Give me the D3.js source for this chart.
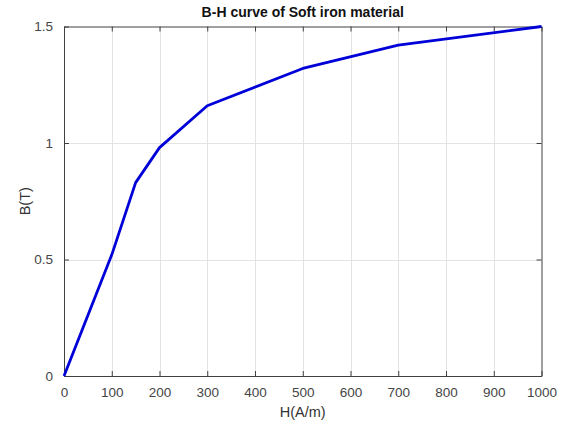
<!DOCTYPE html>
<html>
<head>
<meta charset="utf-8">
<script src="https://cdn.jsdelivr.net/npm/d3@7"></script>
<style>
  html, body { margin: 0; padding: 0; background: #fff; }
  svg { display: block; font-family: "Liberation Sans", Arial, Helvetica, sans-serif; }
</style>
</head>
<body>
<svg id="chart" width="565" height="427"></svg>
<script>
// Magnetisation curve samples: field strength H (A/m) and flux density B (T)
const fieldH = [0, 100, 150, 200, 300, 500, 700, 1000];
const fluxB = [0, 0.52, 0.83, 0.98, 1.16, 1.32, 1.42, 1.5];
const xTicks = [0, 100, 200, 300, 400, 500, 600, 700, 800, 900, 1000];
const yTicks = [0, 0.5, 1, 1.5];
const yTickLabels = ["0", "0.5", "1", "1.5"];

const svg = d3.select("#chart");
const plotLeft = 64, plotRight = 541.5, plotTop = 26.5, plotBottom = 376;

const x = d3.scaleLinear().domain([0, 1000]).range([plotLeft, plotRight]);
const y = d3.scaleLinear().domain([0, 1.5]).range([plotBottom, plotTop]);

const axisColor = "#404040";
const gridColor = "#e3e3e3";

// grid
const grid = svg.append("g");
grid.selectAll("line.gx").data(xTicks.slice(1, -1)).join("line")
  .attr("x1", d => Math.round(x(d)) + 0.5).attr("x2", d => Math.round(x(d)) + 0.5)
  .attr("y1", plotTop).attr("y2", plotBottom)
  .attr("stroke", gridColor).attr("stroke-width", 1);
grid.selectAll("line.gy").data(yTicks.slice(1, -1)).join("line")
  .attr("y1", d => Math.round(y(d)) + 0.5).attr("y2", d => Math.round(y(d)) + 0.5)
  .attr("x1", plotLeft).attr("x2", plotRight)
  .attr("stroke", gridColor).attr("stroke-width", 1);

// axes (bottom/left with labels, top/right as plain box with inward ticks)
function styleAxis(g) {
  g.select(".domain").attr("stroke", axisColor);
  g.selectAll(".tick line").attr("stroke", axisColor);
  g.selectAll(".tick text").attr("fill", "#454545").attr("font-size", 13.5);
}
svg.append("g").attr("transform", `translate(0,${plotBottom})`)
  .call(d3.axisBottom(x).tickValues(xTicks).tickSizeInner(-5).tickSizeOuter(0).tickPadding(11).tickFormat(d3.format("d")))
  .call(styleAxis);
svg.append("g").attr("transform", `translate(0,${plotTop})`)
  .call(d3.axisTop(x).tickValues(xTicks).tickSizeInner(-5).tickSizeOuter(0).tickFormat(""))
  .call(styleAxis);
svg.append("g").attr("transform", `translate(${plotLeft},0)`)
  .call(d3.axisLeft(y).tickValues(yTicks).tickSizeInner(-5).tickSizeOuter(0).tickPadding(11).tickFormat((d, i) => yTickLabels[i]))
  .call(styleAxis);
svg.append("g").attr("transform", `translate(${plotRight},0)`)
  .call(d3.axisRight(y).tickValues(yTicks).tickSizeInner(-5).tickSizeOuter(0).tickFormat(""))
  .call(styleAxis);

// curve
const line = d3.line().x((d, i) => x(fieldH[i])).y(d => y(d));
svg.append("path").datum(fluxB)
  .attr("d", line)
  .attr("fill", "none")
  .attr("stroke", "#0000d8")
  .attr("stroke-width", 2.8)
  .attr("stroke-linejoin", "round");

// titles
svg.append("text")
  .attr("x", (plotLeft + plotRight) / 2).attr("y", 17)
  .attr("text-anchor", "middle")
  .attr("font-size", 14).attr("font-weight", "bold").attr("fill", "#111")
  .text("B-H curve of Soft iron material");
svg.append("text")
  .attr("x", (plotLeft + plotRight) / 2).attr("y", 417)
  .attr("text-anchor", "middle")
  .attr("font-size", 14.5).attr("fill", "#333")
  .text("H(A/m)");
svg.append("text")
  .attr("transform", `translate(30,${(plotTop + plotBottom) / 2}) rotate(-90)`)
  .attr("text-anchor", "middle")
  .attr("font-size", 14.5).attr("fill", "#333")
  .text("B(T)");
</script>
</body>
</html>
